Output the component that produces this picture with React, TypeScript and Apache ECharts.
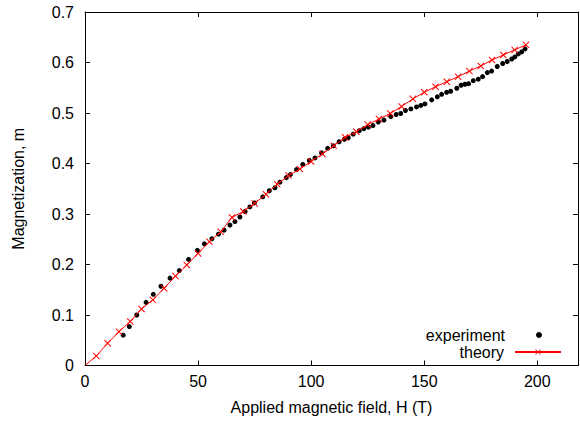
import React, { useEffect, useRef } from "react";
import * as echarts from "echarts";

// Experiment: applied field H (T) and magnetization m
const expH = [
  16.9, 19.6, 22.9, 27.0, 30.2, 33.6, 37.6, 41.7, 45.8, 49.7,
  52.8, 56.1, 59.0, 61.5, 64.1, 66.3, 68.5, 70.8, 72.9, 74.9,
  78.6, 81.5, 84.0, 86.2, 89.0, 90.8, 93.5, 96.3, 99.2, 101.7,
  104.6, 107.3, 109.8, 112.4, 114.7, 116.4, 118.6, 121.3, 123.3, 125.3,
  127.3, 129.7, 132.2, 135.2, 137.6, 139.6, 141.7, 144.1, 146.6, 148.5,
  150.3, 153.3, 155.8, 157.7, 159.9, 161.7, 164.4, 166.3, 168.0, 169.6,
  171.7, 173.9, 175.8, 177.9, 179.8, 182.3, 184.7, 186.7, 188.7, 190.1,
  191.6, 193.1, 194.6,
];
const expM = [
  0.060, 0.077, 0.100, 0.125, 0.141, 0.157, 0.173, 0.188, 0.210, 0.228,
  0.241, 0.251, 0.260, 0.268, 0.278, 0.285, 0.294, 0.305, 0.314, 0.322,
  0.334, 0.346, 0.352, 0.363, 0.372, 0.378, 0.388, 0.398, 0.406, 0.411,
  0.421, 0.430, 0.435, 0.443, 0.448, 0.451, 0.458, 0.465, 0.469, 0.472,
  0.475, 0.482, 0.486, 0.493, 0.497, 0.499, 0.505, 0.508, 0.512, 0.515,
  0.518, 0.526, 0.532, 0.537, 0.541, 0.543, 0.549, 0.555, 0.557, 0.558,
  0.564, 0.567, 0.572, 0.580, 0.583, 0.592, 0.598, 0.602, 0.607, 0.611,
  0.617, 0.621, 0.627,
];

// Theory curve
const theoryH = [
  0, 5, 10, 15, 20, 25, 30, 35, 40, 45,
  50, 55, 60, 65, 70, 75, 80, 85, 90, 95,
  100, 105, 110, 115, 120, 125, 130, 135, 140, 145,
  150, 155, 160, 165, 170, 175, 180, 185, 190, 195,
];
const theoryM = [
  0, 0.019, 0.044, 0.067, 0.087, 0.112, 0.130, 0.153, 0.177, 0.199,
  0.222, 0.245, 0.265, 0.293, 0.305, 0.321, 0.339, 0.359, 0.376, 0.389,
  0.404, 0.419, 0.435, 0.452, 0.463, 0.477, 0.488, 0.499, 0.513, 0.528,
  0.541, 0.552, 0.562, 0.572, 0.583, 0.593, 0.605, 0.615, 0.625, 0.635,
];

const seriesNames = ["experiment", "theory"];
const xTitle = "Applied magnetic field, H (T)";
const yTitle = "Magnetization, m";

const FONT = "'Liberation Sans', Arial, Helvetica, sans-serif";
const CROSS = "path://M0,1L1,0L5,4L9,0L10,1L6,5L10,9L9,10L5,6L1,10L0,9L4,5Z";

export default function App() {
  const ref = useRef<HTMLDivElement>(null);
  useEffect(() => {
    const chart = echarts.init(ref.current!, null, { renderer: "svg" });
    const axisLine = { show: true, onZero: false, lineStyle: { color: "#000", width: 1 } };
    const tick = { show: true, inside: true, length: 5, lineStyle: { color: "#000", width: 1 } };
    const label = { color: "#000", fontSize: 16, fontFamily: FONT };
    chart.setOption({
      animation: false,
      backgroundColor: "#fff",
      textStyle: { fontFamily: FONT },
      grid: { left: 85, top: 12, right: 2, bottom: 58.5, containLabel: false, outerBoundsMode: "none" },
      xAxis: [
        {
          type: "value", min: 0, max: 218, interval: 50, position: "bottom",
          axisLine, axisTick: tick, splitLine: { show: false },
          axisLabel: { ...label, margin: 8, showMaxLabel: false },
          name: xTitle, nameLocation: "middle", nameGap: 34,
          nameTextStyle: { ...label },
        },
        {
          type: "value", min: 0, max: 218, interval: 50, position: "top",
          axisLine, axisTick: tick, splitLine: { show: false },
          axisLabel: { show: false },
        },
      ],
      yAxis: [
        {
          type: "value", min: 0, max: 0.7, interval: 0.1, position: "left",
          axisLine, axisTick: tick, splitLine: { show: false },
          axisLabel: { ...label, margin: 11 },
          name: yTitle, nameLocation: "middle", nameGap: 59,
          nameTextStyle: { ...label },
        },
        {
          type: "value", min: 0, max: 0.7, interval: 0.1, position: "right",
          axisLine, axisTick: tick, splitLine: { show: false },
          axisLabel: { show: false },
        },
      ],
      legend: [
        {
          data: [seriesNames[0]], right: 38, top: 327, padding: 0, align: "right",
          itemWidth: 6, itemHeight: 6, selectedMode: false,
          itemStyle: { opacity: 1 },
          textStyle: { ...label, lineHeight: 16, padding: [0, 26, 0, 0] },
        },
        {
          data: [seriesNames[1]], right: 18, top: 344, padding: 0, align: "right",
          itemWidth: 46, itemHeight: 7, selectedMode: false,
          itemStyle: { borderWidth: 0 },
          textStyle: { ...label, lineHeight: 16, padding: [0, 6, 0, 0] },
        },
      ],
      series: [
        {
          type: "scatter", name: seriesNames[0],
          data: expH.map((h, i) => [h, expM[i]]),
          symbol: "circle", symbolSize: 5,
          itemStyle: { color: "#000", opacity: 1 },
          z: 2,
        },
        {
          type: "line", name: seriesNames[1],
          data: theoryH.map((h, i) =>
            h === 0 ? { value: [h, theoryM[i]], symbol: "none" } : [h, theoryM[i]]
          ),
          symbol: CROSS, symbolSize: 7, showAllSymbol: true,
          lineStyle: { color: "#ff0000", width: 1 },
          itemStyle: { color: "#ff0000", borderWidth: 0 },
          z: 3,
        },
      ],
    });
    return () => chart.dispose();
  }, []);
  return (
    <div
      ref={ref}
      style={{ position: "fixed", left: 0, top: 0, width: 580, height: 424, background: "#fff" }}
    />
  );
}
